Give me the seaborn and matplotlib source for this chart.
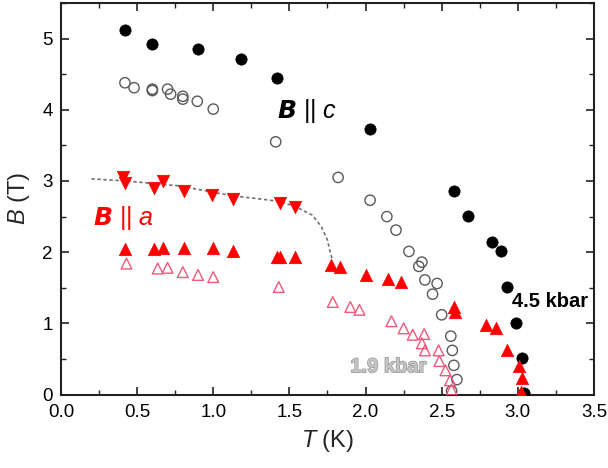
import matplotlib
matplotlib.use("Agg")
import matplotlib.pyplot as plt
import matplotlib.patheffects as pe
from matplotlib.ticker import MultipleLocator
import seaborn as sns

# B || c, 4.5 kbar (filled circles)
c45_T = [0.42, 0.60, 0.90, 1.18, 1.42, 2.03, 2.58, 2.67, 2.83, 2.89, 2.93, 2.99, 3.03, 3.04]
c45_B = [5.12, 4.93, 4.86, 4.72, 4.44, 3.73, 2.86, 2.51, 2.14, 2.01, 1.51, 1.01, 0.51, 0.02]

# B || c, 1.9 kbar (open circles)
c19_T = [0.42, 0.48, 0.60, 0.60, 0.70, 0.72, 0.80, 0.80, 0.895, 1.00, 1.41, 1.82, 2.03,
         2.14, 2.20, 2.285, 2.37, 2.35, 2.39, 2.47, 2.44, 2.50, 2.56, 2.57, 2.58, 2.60, 2.565]
c19_B = [4.38, 4.31, 4.29, 4.27, 4.29, 4.22, 4.19, 4.15, 4.12, 4.01, 3.55, 3.05, 2.73,
         2.50, 2.31, 2.01, 1.86, 1.80, 1.61, 1.56, 1.41, 1.12, 0.82, 0.62, 0.41, 0.21, 0.05]

# B || a, 4.5 kbar, upper transition (filled down triangles)
a45hi_T = [0.41, 0.42, 0.61, 0.67, 0.81, 0.99, 1.13, 1.44, 1.54]
a45hi_B = [3.06, 2.97, 2.90, 3.00, 2.86, 2.80, 2.75, 2.69, 2.64]

# B || a, 4.5 kbar, lower transition (filled up triangles)
a45lo_T = [0.42, 0.61, 0.67, 0.81, 1.00, 1.13, 1.42, 1.44, 1.54, 1.775, 1.83, 2.00, 2.15,
           2.23, 2.58, 2.585, 2.79, 2.86, 2.93, 3.01, 3.03, 3.02]
a45lo_B = [2.04, 2.04, 2.06, 2.06, 2.06, 2.02, 1.93, 1.93, 1.93, 1.82, 1.79, 1.68, 1.62,
           1.58, 1.23, 1.16, 0.97, 0.93, 0.63, 0.40, 0.23, 0.04]

# B || a, 1.9 kbar (open up triangles)
a19_T = [0.43, 0.635, 0.70, 0.80, 0.90, 1.00, 1.43, 1.785, 1.90, 1.96, 2.17, 2.25, 2.31,
         2.385, 2.37, 2.39, 2.48, 2.485, 2.525, 2.555, 2.565]
a19_B = [1.84, 1.77, 1.78, 1.72, 1.68, 1.65, 1.51, 1.30, 1.23, 1.19, 1.03, 0.93, 0.84,
         0.85, 0.72, 0.62, 0.62, 0.47, 0.34, 0.20, 0.07]

# guide-to-the-eye line through the upper B || a boundary
guide_T = [0.20, 0.43, 0.78, 0.98, 1.13, 1.30, 1.44, 1.54, 1.65, 1.71, 1.75, 1.77, 1.785]
guide_B = [3.03, 3.00, 2.93, 2.85, 2.79, 2.75, 2.71, 2.64, 2.52, 2.36, 2.17, 1.98, 1.88]

x_ticks = [0.0, 0.5, 1.0, 1.5, 2.0, 2.5, 3.0, 3.5]
y_ticks = [0, 1, 2, 3, 4, 5]

sns.set_theme(style="ticks")
plt.rcParams["font.family"] = ["Liberation Sans", "DejaVu Sans"]
plt.rcParams["mathtext.fontset"] = "custom"
plt.rcParams["mathtext.rm"] = "Liberation Sans"
plt.rcParams["mathtext.it"] = "Liberation Sans:italic"
plt.rcParams["mathtext.bf"] = "Liberation Sans:bold"

fig = plt.figure(figsize=(6.08, 4.68), dpi=100)
ax = fig.add_axes([0.1003, 0.157, 0.8766, 0.8365])

RED = "#ff0000"
PINK = "#f0587a"
GRAY = "#5a5a5a"

sns.lineplot(x=guide_T, y=guide_B, ax=ax, color="#707070", linewidth=1.2,
             linestyle=(0, (2.0, 1.6)), sort=False, estimator=None, zorder=1)

sns.scatterplot(x=c45_T, y=c45_B, ax=ax, marker="o", s=66, color="black",
                edgecolor="black", linewidth=0.5, zorder=3)
sns.scatterplot(x=c19_T, y=c19_B, ax=ax, marker="o", s=55, color="none",
                edgecolor=GRAY, linewidth=1.0, zorder=3)
sns.scatterplot(x=a45hi_T, y=a45hi_B, ax=ax, marker="v", s=80, color=RED,
                edgecolor=RED, linewidth=0.5, zorder=3)
sns.scatterplot(x=a45lo_T, y=a45lo_B, ax=ax, marker="^", s=80, color=RED,
                edgecolor=RED, linewidth=0.5, zorder=3)
sns.scatterplot(x=a19_T, y=a19_B, ax=ax, marker="^", s=60, color="none",
                edgecolor=PINK, linewidth=1.0, zorder=3)

ax.set_xlim(0, 3.5)
ax.set_ylim(0, 5.5)
ax.set_xticks(x_ticks)
ax.set_xticklabels([f"{v:.1f}" for v in x_ticks])
ax.set_yticks(y_ticks)
ax.set_yticklabels([str(v) for v in y_ticks])
ax.xaxis.set_minor_locator(MultipleLocator(0.25))
ax.yaxis.set_minor_locator(MultipleLocator(0.5))

ax.tick_params(which="both", direction="in", top=True, right=True,
               colors="#222222", labelcolor="black")
ax.tick_params(which="major", length=6, width=1.2, labelsize=13.5)
ax.tick_params(which="minor", length=3.5, width=1.0)
ax.tick_params(axis="x", which="major", pad=7)
ax.tick_params(axis="y", which="major", pad=6)
for sp in ax.spines.values():
    sp.set_color("#222222")
    sp.set_linewidth(1.5)

ax.set_xlabel(r"$T$ (K)", fontsize=17, labelpad=5)
ax.set_ylabel(r"$B$ (T)", fontsize=17, labelpad=7)

ax.text(1.42, 3.98, r"$\mathbfit{B}$ || $c$", fontsize=18, color="black",
        ha="left", va="center", zorder=4)
ax.text(0.21, 2.48, r"$\mathbfit{B}$ || $a$", fontsize=18, color=RED,
        ha="left", va="center", zorder=4)
ax.text(2.965, 1.30, "4.5 kbar", fontsize=14.5, fontweight="bold", color="black",
        ha="left", va="center", zorder=4)
ax.text(1.90, 0.39, "1.9 kbar", fontsize=14.5, fontweight="bold", color="#c4c4c4",
        ha="left", va="center", zorder=4,
        path_effects=[pe.withStroke(linewidth=1.0, foreground="#999999")])

fig.savefig("out.png", dpi=100)
